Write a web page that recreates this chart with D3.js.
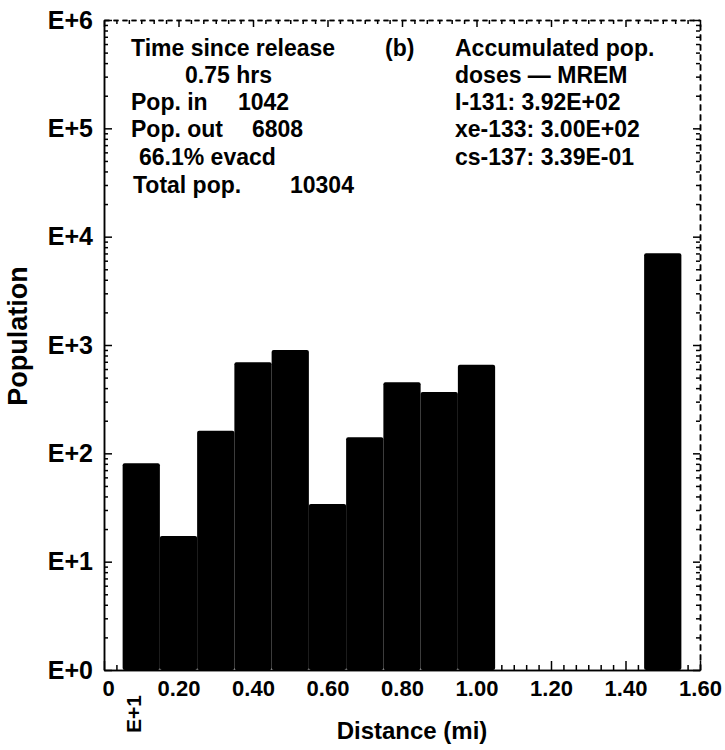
<!DOCTYPE html>
<html><head><meta charset="utf-8">
<script src="https://cdn.jsdelivr.net/npm/d3@7/dist/d3.min.js"></script>
<style>
body{margin:0;background:#fff}
text{font-family:"Liberation Sans",Arial,sans-serif;font-weight:bold;fill:#000}
</style>
</head><body>
<svg id="chart" width="725" height="750"></svg>
<script>
// ---- data ----
const distances = [0.1,0.2,0.3,0.4,0.5,0.6,0.7,0.8,0.9,1.0,1.5]; // bin centres (mi)
const binWidth = 0.1;
const population = [81,17.3,162,692,899,34,141,453,368,658,7020];
const yTickValues = [1,10,100,1000,10000,100000,1000000];
const yTickLabels = ["E+0","E+1","E+2","E+3","E+4","E+5","E+6"];
const xTickValues = [0,0.2,0.4,0.6,0.8,1.0,1.2,1.4,1.6];
const xTickLabels = ["0","0.20","0.40","0.60","0.80","1.00","1.20","1.40","1.60"];
const infoLeft = [
  ["Time since release",""],
  ["0.75 hrs",""],
  ["Pop. in","1042"],
  ["Pop. out","6808"],
  ["66.1% evacd",""],
  ["Total pop.","10304"]
];
const infoRight = ["Accumulated pop.","doses \u2014 MREM","I-131: 3.92E+02","xe-133: 3.00E+02","cs-137: 3.39E-01"];
const panelLabel = "(b)";

// ---- layout ----
const L=104, R=700, T=20, B=670;
const svg = d3.select("#chart");
const x = d3.scaleLinear().domain([0,1.6]).range([L,R]);
const y = d3.scaleLog().domain([1,1e6]).range([B,T]);

// bars
svg.append("g").selectAll("rect").data(distances).join("rect")
  .attr("x", d=>x(d-binWidth/2))
  .attr("width", x(binWidth)-x(0))
  .attr("y", (d,i)=>y(population[i]))
  .attr("height", (d,i)=>B-y(population[i]))
  .attr("rx",2)
  .attr("fill","#000");

// minor tick values
const yMinor = [];
for (let e=0;e<6;e++) for (let m=2;m<=9;m++) yMinor.push(m*Math.pow(10,e));
const xMinor = d3.range(0,48).map(i=>i/30).filter(v=>Math.abs(v*5-Math.round(v*5))>1e-6);

function styleAxis(g,dash){
  g.selectAll(".domain").attr("stroke","#000").attr("stroke-width",1.5).attr("stroke-dasharray",dash||null);
  g.selectAll(".tick line").attr("stroke","#000").attr("stroke-width",1.5);
}

// left axis
const gl = svg.append("g").attr("transform",`translate(${L},0)`)
  .call(d3.axisLeft(y).tickValues(yTickValues).tickSizeInner(-8).tickSizeOuter(0).tickPadding(11)
        .tickFormat((d,i)=>yTickLabels[i]));
styleAxis(gl);
gl.selectAll(".tick text").attr("font-size",25).attr("fill","#000");
const glm = svg.append("g").attr("transform",`translate(${L},0)`)
  .call(d3.axisLeft(y).tickValues(yMinor).tickSizeInner(-4).tickSizeOuter(0).tickFormat(""));
styleAxis(glm);

// right axis
const gr = svg.append("g").attr("transform",`translate(${R},0)`)
  .call(d3.axisRight(y).tickValues(yTickValues).tickSizeInner(-7).tickSizeOuter(0).tickFormat(""));
styleAxis(gr,"6,4");
const grm = svg.append("g").attr("transform",`translate(${R},0)`)
  .call(d3.axisRight(y).tickValues(yMinor).tickSizeInner(-4).tickSizeOuter(0).tickFormat(""));
styleAxis(grm,"6,4");

// top axis
const gt = svg.append("g").attr("transform",`translate(0,${T})`)
  .call(d3.axisTop(x).tickValues(xTickValues).tickSizeInner(-7).tickSizeOuter(0).tickFormat(""));
styleAxis(gt,"5,4");
const gtm = svg.append("g").attr("transform",`translate(0,${T})`)
  .call(d3.axisTop(x).tickValues(xMinor).tickSizeInner(-4).tickSizeOuter(0).tickFormat(""));
styleAxis(gtm,"5,4");

// bottom axis
const gb = svg.append("g").attr("transform",`translate(0,${B})`)
  .call(d3.axisBottom(x).tickValues(xTickValues).tickSizeInner(-9).tickSizeOuter(0).tickPadding(10)
        .tickFormat((d,i)=>xTickLabels[i]));
styleAxis(gb);
gb.selectAll(".tick text").attr("font-size",22).attr("fill","#000")
  .attr("dx",(d,i)=>i===0?4:0);
const gbm = svg.append("g").attr("transform",`translate(0,${B})`)
  .call(d3.axisBottom(x).tickValues(xMinor).tickSizeInner(-5).tickSizeOuter(0).tickFormat(""));
styleAxis(gbm);

// stray rotated tick label near origin
svg.append("text").attr("transform",`translate(${x(0.08)},${B+44}) rotate(-90)`)
  .attr("text-anchor","middle").attr("dominant-baseline","central").attr("font-size",21).text("E+1");

// axis titles
svg.append("text").attr("x",412).attr("y",739).attr("text-anchor","middle").attr("font-size",24).text("Distance (mi)");
svg.append("text").attr("transform",`translate(27,${336}) rotate(-90)`).attr("text-anchor","middle").attr("font-size",27).text("Population");

// info blocks
const fs = 23;
const lineY = [56,83,110,137,165,193];
const leftX = [131,185,131,131,139,133];
const valX = [0,0,238,252,0,290];
infoLeft.forEach((r,i)=>{
  svg.append("text").attr("x",leftX[i]).attr("y",lineY[i]).attr("font-size",fs).text(r[0]);
  if(r[1]) svg.append("text").attr("x",valX[i]).attr("y",lineY[i]).attr("font-size",fs).text(r[1]);
});
svg.append("text").attr("x",385).attr("y",lineY[0]).attr("font-size",fs).text(panelLabel);
infoRight.forEach((t,i)=>{
  svg.append("text").attr("x",455).attr("y",lineY[i]).attr("font-size",fs).text(t);
});
</script>
</body></html>
